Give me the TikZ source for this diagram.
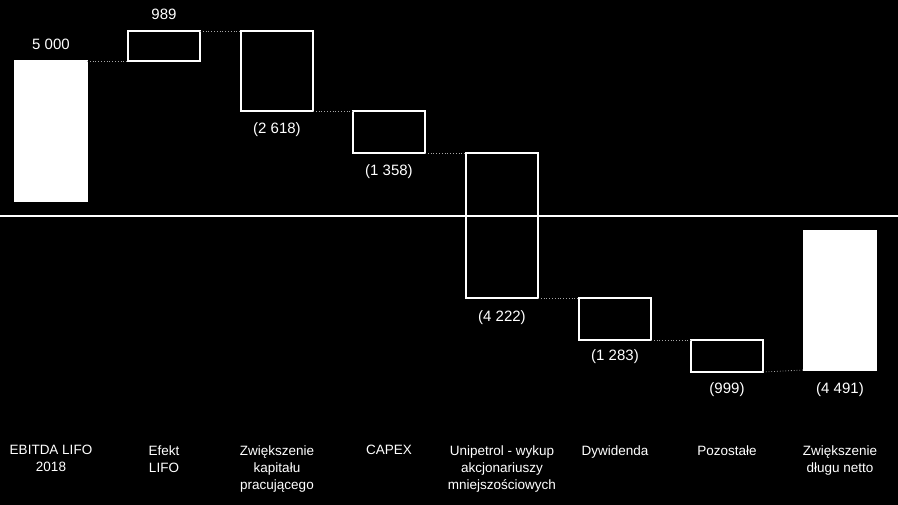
\documentclass[tikz,border=0pt]{standalone}
\usepackage{fontspec}
\setmainfont{Liberation Sans}
\begin{document}
\begin{tikzpicture}[x=1pt,y=-1pt,
  bar/.style={draw=white,line width=1.3pt,minimum width=72pt,inner sep=0pt,outer sep=0pt},
  solidbar/.style={bar,fill=white},
  val/.style={text=white,font=\fontsize{15}{17}\selectfont},
  cat/.style={text=white,font=\fontsize{13.5}{17}\selectfont,align=center,anchor=north},
  conn/.style={draw=gray!70,dotted,line width=0.8pt}]
\fill[black] (0,0) rectangle (898,505);
\useasboundingbox (0,0) rectangle (898,505);
\draw[white,line width=1.2pt] (0,216) -- (898,216);
\newcommand\wbar[6]{\node[#1,minimum height=#4pt] (#2) at (#3,#5) {};}
\node[solidbar,minimum height=140pt] (b1) at (51,131) {};
\node[bar,minimum height=30pt] (b2) at (164,46) {};
\node[bar,minimum height=80pt] (b3) at (277,71) {};
\node[bar,minimum height=42pt] (b4) at (389,132) {};
\node[bar,minimum height=145pt] (b5) at (502,225.5) {};
\node[bar,minimum height=42pt] (b6) at (615,319) {};
\node[bar,minimum height=32pt] (b7) at (727,356) {};
\node[solidbar,minimum height=139pt] (b8) at (840,300.5) {};
\draw[conn] (b1.north east) -- (b2.south west);
\draw[conn] (b2.north east) -- (b3.north west);
\draw[conn] (b3.south east) -- (b4.north west);
\draw[conn] (b4.south east) -- (b5.north west);
\draw[conn] (b5.south east) -- (b6.north west);
\draw[conn] (b6.south east) -- (b7.north west);
\draw[conn] (b7.south east) -- (b8.south west);
\node[val] (v1) at (51,44) {5 000};
\node[val] (v2) at (164,14) {989};
\node[val] (v3) at (277,130) {(2 618)};
\node[val] (v4) at (389,172) {(1 358)};
\node[val] (v5) at (502,318) {(4 222)};
\node[val] (v6) at (615,357) {(1 283)};
\node[val] (v7) at (727,390) {(999)};
\node[val] (v8) at (840,390) {(4 491)};
\node[cat] (c1) at (51,442) {EBITDA LIFO\\2018};
\node[cat] (c2) at (164,442) {Efekt\\LIFO};
\node[cat] (c3) at (277,442) {Zwiększenie\\kapitału\\pracującego};
\node[cat] (c4) at (389,442) {CAPEX};
\node[cat] (c5) at (502,442) {Unipetrol - wykup\\akcjonariuszy\\mniejszościowych};
\node[cat] (c6) at (615,442) {Dywidenda};
\node[cat] (c7) at (727,442) {Pozostałe};
\node[cat] (c8) at (840,442) {Zwiększenie\\długu netto};
\end{tikzpicture}
\end{document}
